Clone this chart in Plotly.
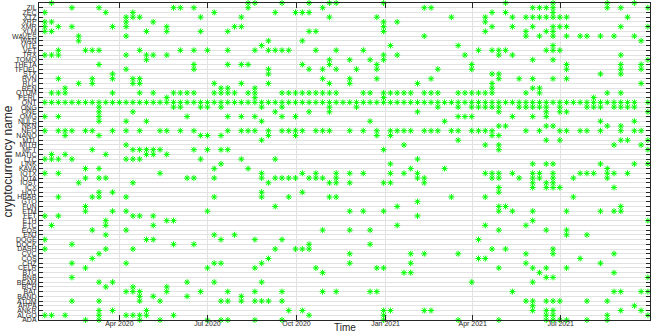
import numpy as np
import plotly.graph_objects as go

# coin names, bottom (ADA) to top (ZRX)
coins = ['ADA', 'ALGO', 'ANKR', 'ARPA', 'ATOM', 'BAND', 'BAT', 'BCH', 'BEAM', 'BNB',
         'BTC', 'CELR', 'CHZ', 'COS', 'CVC', 'DASH', 'DOCK', 'DOGE', 'ENJ', 'EOS',
         'ETC', 'ETH', 'FET', 'FTM', 'FUN', 'GTO', 'HBAR', 'HOT', 'ICX', 'IOST',
         'IOTA', 'IOTX', 'KAVA', 'LINK', 'LTC', 'MATIC', 'MFT', 'MITH', 'MTL', 'NANO',
         'NEO', 'NKN', 'NULS', 'OMG', 'ONE', 'ONG', 'ONT', 'PERL', 'QTUM', 'REN',
         'RLC', 'RVN', 'STX', 'TFUEL', 'THETA', 'TOMO', 'TRX', 'VET', 'VITE', 'WAN',
         'WAVES', 'XLM', 'XMR', 'XRP', 'XTZ', 'ZEC', 'ZIL', 'ZRX']

# first sampled week, events are given as week numbers after it
first_week = '2020-01-15'

# week numbers with an event, one list per coin (same order as coins)
event_weeks = [
    [6, 8, 14, 17, 24, 26, 27, 31, 35, 50, 61, 67, 74, 75, 76, 77, 80, 83],
    [0, 1, 3, 8, 12, 13, 14, 15, 19, 39, 50, 74, 75, 83, 89],
    [8, 10, 15, 36, 38, 50, 51, 56, 57, 72, 74, 75, 85, 88],
    [72, 87],
    [4, 8, 14, 17, 26, 27, 29, 31, 32, 33, 35, 71, 72, 74, 75, 76, 80, 83],
    [14, 16, 21, 29],
    [12, 13, 14, 18, 23, 27, 31, 35, 41, 43, 48, 49, 69, 84, 85, 88, 89],
    [9, 13, 18],
    [8, 10, 21, 25, 32, 63, 72],
    [4, 74, 75, 89],
    [41, 53, 54, 73, 84],
    [6, 24, 31, 40, 49, 50, 67, 72, 74, 77],
    [4, 12, 25, 26, 32, 45, 54, 71, 82],
    [7, 33, 64, 65, 79],
    [8, 45, 54, 56, 61, 71, 75, 84],
    [0, 9, 13, 34, 37, 38, 39, 66, 68, 75],
    [4, 19, 22, 39, 48],
    [0, 15, 16, 26, 31, 35, 64],
    [9, 25, 28, 77, 80],
    [7, 12, 41, 45, 48, 67, 74, 77],
    [1, 9, 16, 52, 65, 71],
    [9, 18, 19, 72, 89],
    [0, 2, 13, 14, 16, 55],
    [6, 10, 12, 24, 45, 47, 50, 67, 69, 72, 77, 82, 84, 85],
    [6, 34, 52, 67, 68, 85],
    [55],
    [2, 7, 8, 12, 25, 32, 36, 42, 43, 60, 65, 78],
    [8, 10, 32, 38, 67],
    [67, 72, 74, 75, 76, 84],
    [5, 13, 33, 42, 43, 45, 50, 51, 56, 72, 74, 75],
    [6, 8, 9, 21, 22, 25, 32, 34, 35, 36, 37, 39, 40, 41, 43, 55, 56, 66, 67, 70,
     72, 73, 75, 78, 83],
    [0, 2, 17, 32, 38, 40, 43, 45, 47, 51, 53, 55, 65, 66, 67, 69, 72, 73, 75, 79,
     80, 81, 83, 84, 86],
    [6, 8, 25, 30, 54, 59, 83],
    [26, 51, 72, 74, 75, 82, 87, 89],
    [0, 1, 2, 4, 12, 13, 14, 23, 29, 34, 55],
    [1, 3, 9, 15, 16, 18],
    [7, 13, 14, 15, 16, 17, 22, 24, 26, 27, 50, 67, 89],
    [12, 53, 65, 67, 84, 88],
    [32, 61, 74, 76, 85, 86, 89],
    [3, 8, 23, 24, 26, 33, 37, 49, 51, 66, 67],
    [0, 2, 3, 4, 6, 7, 10, 12, 14, 17, 18, 20, 22, 27, 29, 30, 31, 33, 35, 36,
     37, 38, 40, 41, 42, 45, 47, 49, 51, 52, 53, 54, 56, 57, 58, 60, 61, 63, 64, 65,
     66, 71, 73, 76, 77, 79, 80, 82, 85, 87, 88],
    [67, 68, 74, 75, 83, 85],
    [8, 12, 15, 32, 48, 59, 82, 87],
    [0, 2, 8, 21, 27, 29, 31, 35, 37, 61, 62, 63, 69, 72, 74],
    [8, 13, 34, 39, 42, 55, 67, 74, 76, 77, 89],
    [8, 19, 20, 23, 24, 26, 32, 35, 42, 46, 58, 61, 63, 64, 65, 66, 67, 70, 71, 72,
     73, 74, 76, 80, 81, 82, 84, 85, 86, 87],
    [0, 1, 2, 3, 4, 5, 6, 7, 8, 9, 10, 11, 12, 13, 14, 15, 16, 17, 18, 19,
     20, 21, 22, 23, 24, 25, 26, 27, 28, 29, 30, 31, 32, 33, 34, 35, 36, 37, 38, 39,
     40, 41, 42, 43, 44, 45, 46, 47, 48, 49, 50, 51, 52, 53, 54, 55, 56, 57, 58, 59,
     60, 61, 62, 63, 64, 65, 66, 67, 68, 69, 70, 71, 72, 73, 74, 75, 76, 77, 78, 79,
     80, 81, 82, 83, 84, 85, 86, 87, 89],
    [18, 31, 50, 81],
    [1, 2, 3, 10, 14, 16, 19, 20, 21, 22, 25, 26, 27, 28, 30, 31, 35, 36, 37, 38,
     39, 40, 41, 42, 43, 47, 48, 50, 51, 52, 53, 54, 56, 57, 58, 61, 62, 63, 64, 65,
     66, 71, 73, 83, 85],
    [3, 26, 27, 31, 66, 72, 73],
    [5, 7, 13, 14, 25, 29, 33, 42, 45, 55, 66, 88],
    [2, 7, 10, 13, 14, 41, 45, 49, 57, 67, 70, 72, 75, 77],
    [10, 33, 66, 67, 82, 85],
    [12, 22, 33, 39, 41, 43, 46, 49, 58, 63, 77, 85, 88],
    [8, 22, 27, 29, 30, 38, 42, 49, 63, 77, 85, 88],
    [15, 42, 45, 48, 50, 72, 75, 89],
    [0, 1, 2, 12, 15, 16, 18, 50, 52, 62, 67, 69, 85],
    [2, 6, 7, 8, 14, 20, 22, 24, 27, 31, 33, 34, 35, 36, 40, 43, 47, 64, 66, 67,
     68, 74, 75, 76],
    [32, 51, 61, 75],
    [5, 33, 38, 88],
    [5, 12, 56, 71, 73, 75, 77, 79, 80, 82, 84, 87],
    [0, 1, 15, 18, 23, 27, 39, 40, 50, 65, 71, 74, 75],
    [0, 2, 4, 10, 12, 18, 28, 29, 50, 66, 69, 72, 75, 76, 77, 85, 89],
    [0, 1, 12, 16, 50, 52, 65],
    [12, 13, 14, 23, 29, 42, 49, 60, 65, 69, 71, 72, 73, 74, 75, 76, 77, 86],
    [0, 9, 13, 25, 34, 37, 38, 39, 66, 68, 75],
    [4, 8, 19, 20, 22, 30, 41, 56, 57, 72, 73, 74, 75, 83, 85, 89],
    [1, 30, 31, 35, 39, 42, 43, 50, 68, 75, 83, 87],
]

x_ticks = ['2020-04-01', '2020-07-01', '2020-10-01', '2021-01-01',
           '2021-04-01', '2021-07-01', '2021-10-01']
x_ticktext = ['Apr 2020', 'Jul 2020', 'Oct 2020', 'Jan 2021',
              'Apr 2021', 'Jul 2021', 'Oct 2021']

# flatten to points
xs, ys = [], []
start = np.datetime64(first_week)
for i, weeks in enumerate(event_weeks):
    for w in weeks:
        xs.append(str(start + np.timedelta64(7 * w, 'D')))
        ys.append(i)

font = 'Liberation Sans, Arial, sans-serif'
axcol = '#262626'

fig = go.Figure()
fig.add_trace(go.Scatter(x=xs, y=ys, mode='markers', cliponaxis=False,
                         marker=dict(symbol='asterisk-open', size=5, color='#00ff00',
                                     line=dict(color='#00ff00', width=1))))

fig.update_layout(
    width=664, height=333,
    margin=dict(l=39, r=14, t=3, b=13),
    paper_bgcolor='white', plot_bgcolor='white',
    showlegend=False,
    font=dict(family=font, color=axcol),
    xaxis=dict(type='date', range=['2020-01-09', '2021-10-01 04:00'],
               tickmode='array', tickvals=x_ticks, ticktext=x_ticktext,
               tickfont=dict(size=7), ticks='inside', ticklen=5, tickcolor=axcol,
               ticklabelstandoff=-3,
               showline=True, linecolor=axcol, linewidth=1, mirror='ticks',
               showgrid=True, gridcolor='#e2e2e2', zeroline=False),
    yaxis=dict(range=[0, len(coins) - 1],
               tickmode='array', tickvals=list(range(len(coins))), ticktext=coins,
               tickfont=dict(size=7), ticks='inside', ticklen=4, tickcolor=axcol,
               showline=True, linecolor=axcol, linewidth=1, mirror='ticks',
               showgrid=True, gridcolor='#e2e2e2', zeroline=False),
    annotations=[
        dict(text='Time', xref='paper', yref='paper', x=0.5, y=0, xanchor='center',
             yanchor='top', yshift=0, showarrow=False, font=dict(size=10, color=axcol)),
        dict(text='cryptocurrency name', xref='paper', yref='paper', x=0, y=0.5,
             xanchor='center', yanchor='middle', xshift=-32, textangle=-90,
             showarrow=False, font=dict(size=12, color=axcol)),
    ],
)

# page has a default body margin, drop it so the figure fills the window
fig.write_html('out.html', config={'displayModeBar': False},
               post_script="document.body.style.margin='0px';")
